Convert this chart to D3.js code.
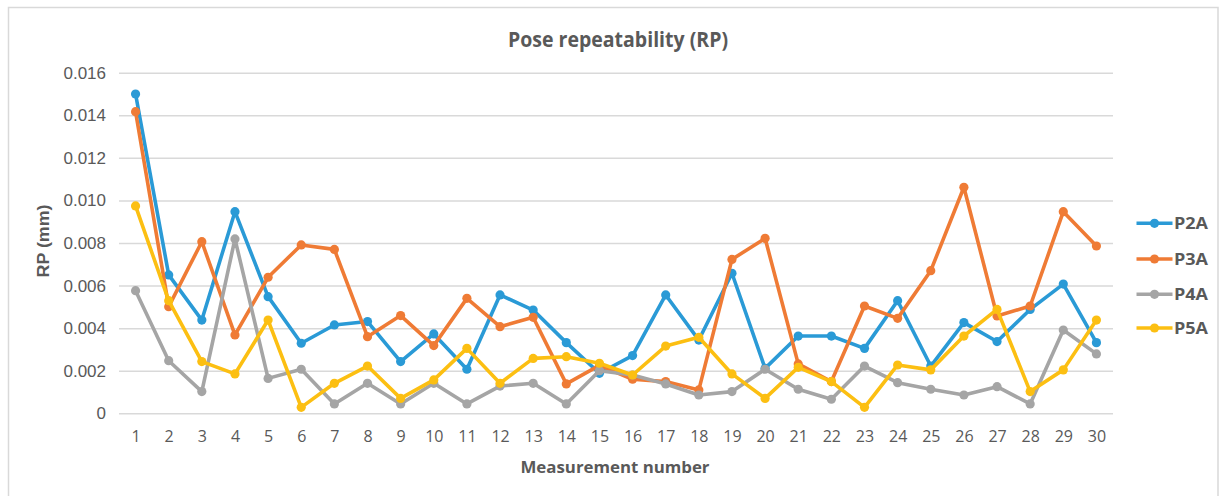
<!DOCTYPE html>
<html><head><meta charset="utf-8">
<script src="https://cdn.jsdelivr.net/npm/d3@7"></script>
<style>html,body{margin:0;padding:0;background:#fff;}svg{display:block;}</style>
</head><body>
<svg id="chart" width="1222" height="496"></svg>
<script>
const categories = d3.range(1, 31).map(String);
const seriesNames = ["P2A", "P3A", "P4A", "P5A"];
const P2A = [0.01500,0.00650,0.00438,0.00947,0.00548,0.00329,0.00415,0.00431,0.00243,0.00373,0.00207,0.00556,0.00485,0.00332,0.00188,0.00271,0.00556,0.00344,0.00658,0.00211,0.00363,0.00363,0.00305,0.00529,0.00222,0.00426,0.00337,0.00488,0.00607,0.00332];
const P3A = [0.01417,0.00501,0.00806,0.00368,0.00639,0.00791,0.00770,0.00360,0.00459,0.00318,0.00540,0.00407,0.00451,0.00138,0.00225,0.00160,0.00149,0.00110,0.00723,0.00822,0.00232,0.00149,0.00504,0.00446,0.00670,0.01062,0.00457,0.00504,0.00947,0.00786];
const P4A = [0.00576,0.00247,0.00102,0.00819,0.00164,0.00207,0.00044,0.00141,0.00044,0.00141,0.00044,0.00128,0.00141,0.00044,0.00200,0.00180,0.00138,0.00086,0.00102,0.00207,0.00113,0.00066,0.00222,0.00144,0.00113,0.00086,0.00125,0.00044,0.00391,0.00279];
const P5A = [0.00974,0.00529,0.00243,0.00185,0.00438,0.00028,0.00141,0.00222,0.00070,0.00157,0.00305,0.00141,0.00258,0.00266,0.00235,0.00180,0.00316,0.00357,0.00185,0.00070,0.00216,0.00149,0.00028,0.00227,0.00204,0.00363,0.00488,0.00102,0.00204,0.00438];
const yTicks = [0, 0.002, 0.004, 0.006, 0.008, 0.010, 0.012, 0.014, 0.016];
const yTickLabels = ["0", "0.002", "0.004", "0.006", "0.008", "0.010", "0.012", "0.014", "0.016"];
const colors = ["#2a9ad6", "#ef7b35", "#a5a5a5", "#fcbf12"];
const seriesValues = [P2A, P3A, P4A, P5A];

const svg = d3.select("#chart");
const textColor = "#595959";

// outer chart border
svg.append("rect").attr("x", 8.5).attr("y", 7.5).attr("width", 1209.5).attr("height", 500)
  .attr("fill", "#fff").attr("stroke", "#d9d9d9").attr("stroke-width", 1.5);

const plotLeft = 119, plotRight = 1113, plotTop = 72.7, plotBottom = 413.3;
const x = d3.scalePoint().domain(categories).range([plotLeft, plotRight]).padding(0.5);
const y = d3.scaleLinear().domain([0, 0.016]).range([plotBottom, plotTop]);

// gridlines
const yAxis = d3.axisLeft(y).tickValues(yTicks).tickSize(-(plotRight - plotLeft))
  .tickFormat((d, i) => yTickLabels[i]).tickPadding(13);
const gy = svg.append("g").attr("transform", `translate(${plotLeft},0)`).call(yAxis);
gy.select(".domain").remove();
gy.selectAll(".tick line").attr("stroke", "#d9d9d9").attr("stroke-width", 1.5);
gy.selectAll(".tick text").attr("fill", textColor)
  .style("font-family", "'Liberation Sans', Arial, sans-serif").style("font-size", "17px");

const xAxis = d3.axisBottom(x).tickSize(0).tickPadding(17);
const gx = svg.append("g").attr("transform", `translate(0,${plotBottom})`).call(xAxis);
gx.select(".domain").remove();
gx.selectAll(".tick text").attr("fill", textColor)
  .style("font-family", "'Open Sans', sans-serif").style("font-size", "16px");

// series
const line = d3.line().x((d, i) => x(categories[i])).y(d => y(d));
seriesValues.forEach((vals, si) => {
  const g = svg.append("g");
  g.append("path").datum(vals).attr("d", line).attr("fill", "none")
    .attr("stroke", colors[si]).attr("stroke-width", 3.6).attr("stroke-linejoin", "round");
  g.selectAll("circle").data(vals).join("circle")
    .attr("cx", (d, i) => x(categories[i])).attr("cy", d => y(d)).attr("r", 4.6)
    .attr("fill", colors[si]);
});

// title
svg.append("text").attr("x", 618).attr("y", 46.5).attr("text-anchor", "middle")
  .attr("fill", textColor).style("font-family", "'Open Sans', sans-serif")
  .style("font-size", "22px").style("font-weight", "bold")
  .attr("textLength", 220).attr("lengthAdjust", "spacingAndGlyphs")
  .text("Pose repeatability (RP)");

// axis titles
svg.append("text").attr("transform", "translate(49,241) rotate(-90)").attr("text-anchor", "middle")
  .attr("fill", textColor).style("font-family", "'Liberation Sans', Arial, sans-serif")
  .style("font-size", "17px").style("font-weight", "bold")
  .attr("textLength", 73).attr("lengthAdjust", "spacingAndGlyphs").text("RP (mm)");
svg.append("text").attr("x", 615).attr("y", 473).attr("text-anchor", "middle")
  .attr("fill", textColor).style("font-family", "'Open Sans', sans-serif")
  .style("font-size", "16px").style("font-weight", "bold")
  .attr("textLength", 189).attr("lengthAdjust", "spacingAndGlyphs")
  .text("Measurement number");

// legend
const legendY = [223.3, 259, 294.3, 328];
seriesNames.forEach((name, i) => {
  const g = svg.append("g").attr("transform", `translate(0,${legendY[i]})`);
  g.append("line").attr("x1", 1136.5).attr("x2", 1172.5).attr("y1", 0).attr("y2", 0)
    .attr("stroke", colors[i]).attr("stroke-width", 3.6);
  g.append("circle").attr("cx", 1154.5).attr("cy", 0).attr("r", 4.6).attr("fill", colors[i]);
  g.append("text").attr("x", 1174).attr("y", 6).attr("fill", textColor)
    .style("font-family", "'Open Sans', sans-serif").style("font-size", "16px")
    .style("font-weight", "bold").attr("textLength", 34).attr("lengthAdjust", "spacingAndGlyphs")
    .text(name);
});
</script>
</body></html>
